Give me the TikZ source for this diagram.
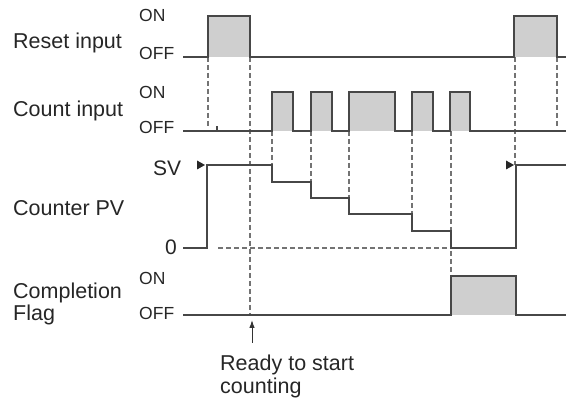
\documentclass[tikz,border=0pt]{standalone}
\usepackage{fontspec}
\setmainfont{Liberation Sans}
\usetikzlibrary{arrows.meta}

\begin{document}
\begin{tikzpicture}[x=1pt,y=-1pt,
    sig/.style={line width=1.3pt,black!72},
    guide/.style={line width=1.2pt,black!55,dash pattern=on 5pt off 3pt},
    pulse/.style={fill=black!19},
    lbl/.style={anchor=west,inner sep=0pt,text=black!85,font=\fontsize{21.5}{22}\selectfont},
    lvl/.style={anchor=west,inner sep=0pt,text=black!85,font=\fontsize{17.5}{18}\selectfont},
    tri/.style={fill=black!85}]
  \useasboundingbox (0,0) rectangle (566,401);
  % Nombres de las senales
  \node[lbl] (reset) at (13,43) {Reset input};
  \node[lbl] (count) at (13,111) {Count input};
  \node[lbl] (pv) at (13,208) {Counter PV};
  \node[lbl,align=left] (flag) at (13,304) {Completion\\Flag};
  % Niveles
  \node[lvl] (resetOn) at (139,15) {ON};
  \node[lvl] (resetOff) at (139,53) {OFF};
  \node[lvl] (countOn) at (139,92) {ON};
  \node[lvl] (countOff) at (139,127) {OFF};
  \node[lvl] (flagOn) at (139,278) {ON};
  \node[lvl] (flagOff) at (139,313) {OFF};
  \node[lbl,font=\fontsize{21}{22}\selectfont] (sv) at (153,168) {SV};
  \node[lbl,font=\fontsize{21}{22}\selectfont] (zero) at (165,247) {0};
  % Pulsos rellenos
  \fill[pulse] (208,16) rectangle (250,57);
  \fill[pulse] (514,16) rectangle (557,57);
  \foreach \a/\b in {272/293,311/332,349/395,412/433,450/470}{
    \fill[pulse] (\a,92) rectangle (\b,131);
  }
  \fill[pulse] (451,276) rectangle (516,315);
  % Lineas guia
  \draw[guide] (208,57) -- (208,128);
  \draw[guide] (250,57) -- (250,315);
  \draw[guide] (557,57) -- (557,128);
  \draw[guide] (515,57) -- (515,165);
  \foreach \a/\b in {272/165,311/182,349/198,412/214,451/276}{
    \draw[guide] (\a,131) -- (\a,\b);
  }
  \draw[guide] (218,248) -- (450,248);
  % Senales
  \draw[sig] (183,57) -- (208,57) -- (208,16) -- (250,16) -- (250,57)
    -- (514,57) -- (514,16) -- (557,16) -- (557,57) -- (566,57);
  \draw[sig] (183,131) -- (272,131) -- (272,92) -- (293,92) -- (293,131)
    -- (311,131) -- (311,92) -- (332,92) -- (332,131)
    -- (349,131) -- (349,92) -- (395,92) -- (395,131)
    -- (412,131) -- (412,92) -- (433,92) -- (433,131)
    -- (450,131) -- (450,92) -- (470,92) -- (470,131) -- (566,131);
  \draw[sig] (217,131) -- (217,126);
  \draw[sig] (183,248) -- (207,248) -- (207,165) -- (272,165) -- (272,182)
    -- (311,182) -- (311,198) -- (349,198) -- (349,214) -- (412,214)
    -- (412,231) -- (451,231) -- (451,248) -- (516,248) -- (516,165) -- (566,165);
  \fill[tri] (197,160.5) -- (205,165) -- (197,169.5) -- cycle;
  \fill[tri] (506,160.5) -- (514,165) -- (506,169.5) -- cycle;
  \draw[sig] (183,315) -- (451,315) -- (451,276) -- (516,276) -- (516,315) -- (566,315);
  % Indicacion
  \node[anchor=north west,inner sep=0pt,align=left,text=black!85,
    font=\fontsize{21.5}{22.5}\selectfont] (ready) at (220,355) {Ready to start\\counting};
  \coordinate (tip) at (252,320);
  \draw[line width=1pt,black!80,-{Latex[length=8pt,width=5.5pt]}]
    ([yshift=12pt]tip |- ready.north) -- (tip);
\end{tikzpicture}
\end{document}
